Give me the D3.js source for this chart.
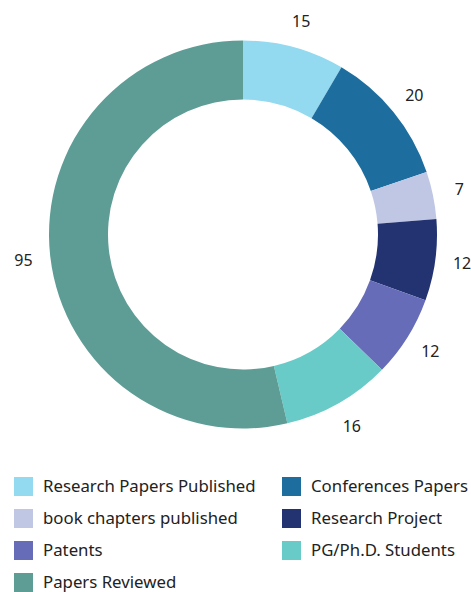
<!DOCTYPE html>
<html>
<head>
<meta charset="utf-8">
<script src="https://cdn.jsdelivr.net/npm/d3@7"></script>
<style>
  body { margin: 0; background: #fff; }
  text { font-family: "Noto Sans", sans-serif; fill: #222; }
</style>
</head>
<body>
<script>
// data
var categories = ["Research Papers Published", "Conferences Papers", "book chapters published",
                  "Research Project", "Patents", "PG/Ph.D. Students", "Papers Reviewed"];
var values = [15, 20, 7, 12, 12, 16, 95];
var colors = ["#93d9ef", "#1d6e9f", "#bfc7e5", "#233372", "#666cb8", "#68cbc8", "#5e9d95"];

var width = 471, height = 592;
var cx = 243, cy = 234.5;
var outerR = 194, innerR = 135, labelR = 221;

var svg = d3.select("body").append("svg")
    .attr("width", width)
    .attr("height", height);

var data = categories.map(function(c, i) {
    return { name: c, value: values[i], color: colors[i] };
});

var pie = d3.pie().sort(null).value(function(d) { return d.value; });
var arc = d3.arc().innerRadius(innerR).outerRadius(outerR);
var labelArc = d3.arc().innerRadius(labelR).outerRadius(labelR);

var g = svg.append("g").attr("transform", "translate(" + cx + "," + cy + ")");

g.selectAll("path")
    .data(pie(data))
    .enter()
    .append("path")
    .attr("d", arc)
    .attr("fill", function(d) { return d.data.color; });

g.selectAll("text")
    .data(pie(data))
    .enter()
    .append("text")
    .attr("transform", function(d) { return "translate(" + labelArc.centroid(d) + ")"; })
    .attr("text-anchor", "middle")
    .attr("dy", "0.35em")
    .attr("font-size", "16px")
    .text(function(d) { return d.data.value; });

// legend, two columns
var legend = svg.append("g");
var item = legend.selectAll("g")
    .data(data)
    .enter()
    .append("g")
    .attr("transform", function(d, i) {
        var col = i % 2, row = Math.floor(i / 2);
        return "translate(" + (14 + col * 268) + "," + (477 + row * 32) + ")";
    });

item.append("rect")
    .attr("width", 19)
    .attr("height", 19)
    .attr("fill", function(d) { return d.color; });

item.append("text")
    .attr("x", 29)
    .attr("y", 9.5)
    .attr("dy", "0.35em")
    .attr("font-size", "16.8px")
    .text(function(d) { return d.name; });
</script>
</body>
</html>
